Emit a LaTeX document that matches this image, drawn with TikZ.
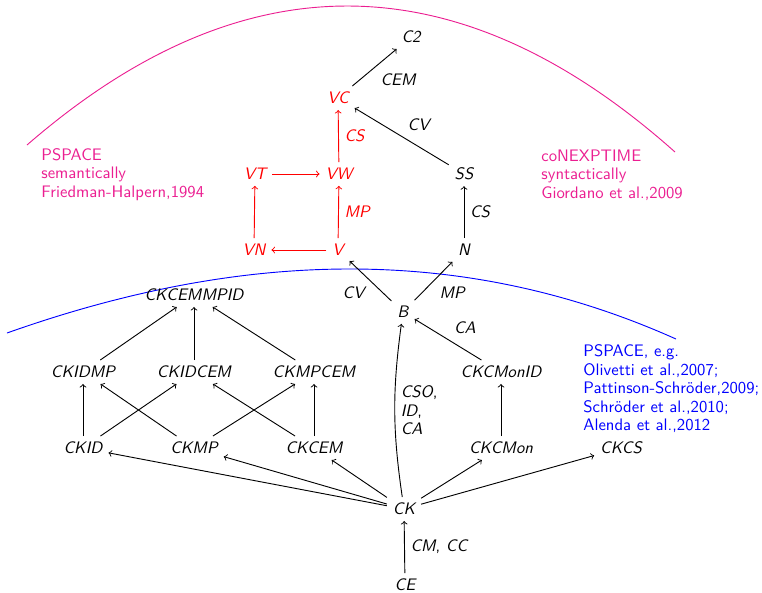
\documentclass[tikz,border=0pt]{standalone}
\usepackage{fontspec}
\definecolor{mag}{RGB}{235,30,145}
\begin{document}
\begin{tikzpicture}[x=0.6pt,y=-0.6pt, line width=0.55pt,
  every node/.style={font=\fontsize{10}{11.1}\selectfont\sffamily\itshape},
  rn/.style={text=red},
  ar/.style={->},
  rar/.style={->,red},
  note/.style={font=\fontsize{10}{11.1}\selectfont\sffamily\upshape, align=left, inner sep=0pt, anchor=north west}]
\useasboundingbox (0,0) rectangle (762,592);
% arcs
\draw[mag] (27,145) .. controls (243,-42.6) and (459,-40.3) .. (675,152);
\draw[blue] (7,333) .. controls (253,245.7) and (472,247.7) .. (676,339);
% notes
\node[note, text=mag] (lnote) at (41,148) {PSPACE\\semantically\\Friedman-Halpern,1994};
\node[note, text=mag] (rnote) at (541,149.4) {coNEXPTIME\\syntactically\\Giordano et al.,2009};
\node[note, text=blue] (bnote) at (583,344.4) {PSPACE, e.g.\\Olivetti et al.,2007;\\Pattinson-Schröder,2009;\\Schröder et al.,2010;\\Alenda et al.,2012};
% nodes
\node (C2) at (411,37) {C2};
\node[rn] (VC) at (338,98) {VC};
\node[rn] (VT) at (255,174) {VT};
\node[rn] (VW) at (339,174) {VW};
\node (SS) at (464,174) {SS};
\node[rn] (VN) at (254,250) {VN};
\node[rn] (V) at (338,250) {V};
\node (N) at (464,250) {N};
\node (B) at (403,312) {B};
\node (CKCEMMPID) at (194,295) {CKCEMMPID};
\node (CKIDMP) at (83,372) {CKIDMP};
\node (CKIDCEM) at (194,372) {CKIDCEM};
\node (CKMPCEM) at (314,372) {CKMPCEM};
\node (CKCMonID) at (501,372) {CKCMonID};
\node (CKID) at (83,448) {CKID};
\node (CKMP) at (194,448) {CKMP};
\node (CKCEM) at (314,448) {CKCEM};
\node (CKCMon) at (501,448) {CKCMon};
\node (CKCS) at (621,448) {CKCS};
\node (CK) at (404,509) {CK};
\node (CE) at (405,585) {CE};
% upper edges
\draw[ar] (VC) -- node[below right] {CEM} (C2);
\draw[ar] (SS) -- node[above right] {CV} (VC);
\draw[rar] (VW) -- node[right, text=red] {CS} (VC);
\draw[rar] (V) -- node[right, text=red] {MP} (VW);
\draw[ar] (N) -- node[right] {CS} (SS);
\draw[rar] (VN) -- (VT);
\draw[rar] (VT) -- (VW);
\draw[rar] (V) -- (VN);
\draw[ar] (B) -- node[below left] {CV} (V);
\draw[ar] (B) -- node[below right] {MP} (N);
\draw[ar] (CKCMonID) -- node[above right] {CA} (B);
\draw[ar] (CK) to[bend left=8] node[right, align=left] {CSO\textup{,}\\ID\textup{,}\\CA} (B);
\draw[ar] (CE) -- node[right] {CM\textup{,} CC} (CK);
% lower edges
\draw[ar] (CKIDMP) -- (CKCEMMPID);
\draw[ar] (CKIDCEM) -- (CKCEMMPID);
\draw[ar] (CKMPCEM) -- (CKCEMMPID);
\draw[ar] (CKID) -- (CKIDMP);
\draw[ar] (CKID) -- (CKIDCEM);
\draw[ar] (CKMP) -- (CKIDMP);
\draw[ar] (CKMP) -- (CKMPCEM);
\draw[ar] (CKCEM) -- (CKIDCEM);
\draw[ar] (CKCEM) -- (CKMPCEM);
\draw[ar] (CKCMon) -- (CKCMonID);
\draw[ar] (CK) -- (CKID);
\draw[ar] (CK) -- (CKMP);
\draw[ar] (CK) -- (CKCEM);
\draw[ar] (CK) -- (CKCMon);
\draw[ar] (CK) -- (CKCS);
\end{tikzpicture}
\end{document}
